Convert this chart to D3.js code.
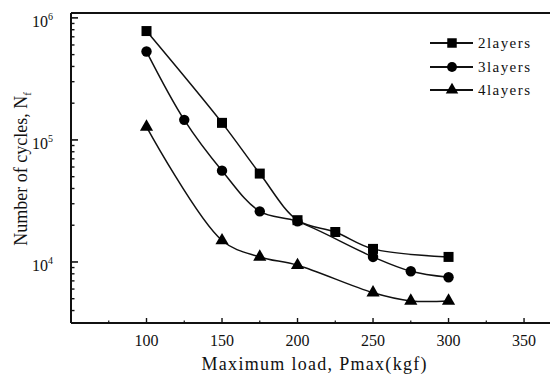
<!DOCTYPE html>
<html lang="en">
<head>
  <meta charset="UTF-8">
  <title>Number of cycles vs maximum load</title>
  <script src="https://d3js.org/d3.v7.min.js"></script>
  <style>
    body { margin: 0; background: #fff; }
    text { font-family: "Liberation Serif", "Times New Roman", serif; fill: #111; }
  </style>
</head>
<body>
  <svg id="chart" width="550" height="375"></svg>

  <script>
    // data
    const loads2 = [100, 150, 175, 200, 225, 250, 300];
    const cycles2 = [780000, 138000, 53000, 22000, 17600, 12800, 11000];

    const loads3 = [100, 125, 150, 175, 200, 250, 275, 300];
    const cycles3 = [530000, 146000, 56000, 26000, 21500, 11000, 8400, 7500];

    const loads4 = [100, 150, 175, 200, 250, 275, 300];
    const cycles4 = [128000, 15000, 11000, 9400, 5600, 4800, 4800];

    const seriesNames = ["2layers", "3layers", "4layers"];
    const xTicks = [100, 150, 200, 250, 300, 350];
    const yTickExps = [4, 5, 6];

    const svg = d3.select("#chart");
    const plotLeft = 71, plotTop = 13, plotBottom = 323;

    const x = d3.scaleLinear().domain([50, 375]).range([plotLeft, 561.8]);
    const y = d3.scaleLog().domain([Math.pow(10, 3.5), Math.pow(10, 6.04)]).range([plotBottom, plotTop]);

    const series = [
      { name: seriesNames[0], shape: d3.symbolSquare, size: 100, pts: loads2.map((l, i) => [l, cycles2[i]]) },
      { name: seriesNames[1], shape: d3.symbolCircle, size: 85, pts: loads3.map((l, i) => [l, cycles3[i]]) },
      { name: seriesNames[2], shape: d3.symbolTriangle, size: 75, pts: loads4.map((l, i) => [l, cycles4[i]]) }
    ];

    // frame: left and bottom axis lines, top border
    svg.append("line").attr("x1", plotLeft).attr("x2", 550).attr("y1", plotBottom).attr("y2", plotBottom)
      .attr("stroke", "#111").attr("stroke-width", 2);
    svg.append("line").attr("x1", plotLeft).attr("x2", 550).attr("y1", plotTop).attr("y2", plotTop)
      .attr("stroke", "#111").attr("stroke-width", 2);
    svg.append("line").attr("x1", plotLeft).attr("x2", plotLeft).attr("y1", plotTop).attr("y2", plotBottom)
      .attr("stroke", "#111").attr("stroke-width", 2);

    // x ticks (pointing inward)
    const xMinor = d3.range(75, 376, 25).filter(v => !xTicks.includes(v));
    svg.selectAll(".xmin").data(xMinor).join("line")
      .attr("x1", d => x(d)).attr("x2", d => x(d))
      .attr("y1", plotBottom).attr("y2", plotBottom - 2.5)
      .attr("stroke", "#111").attr("stroke-width", 1.2);
    svg.selectAll(".xmaj").data(xTicks).join("line")
      .attr("x1", d => x(d)).attr("x2", d => x(d))
      .attr("y1", plotBottom).attr("y2", plotBottom - 5)
      .attr("stroke", "#111").attr("stroke-width", 1.4);
    svg.selectAll(".xlab").data(xTicks).join("text")
      .attr("x", d => x(d)).attr("y", 346)
      .attr("text-anchor", "middle").attr("font-size", 16)
      .text(d => d);

    // y ticks
    const yMinor = [];
    [3, 4, 5].forEach(e => {
      for (let m = 2; m <= 9; m++) {
        const v = m * Math.pow(10, e);
        if (v > y.domain()[0] && v < y.domain()[1]) yMinor.push(v);
      }
    });
    svg.selectAll(".ymin").data(yMinor).join("line")
      .attr("x1", plotLeft).attr("x2", plotLeft + 3.5)
      .attr("y1", d => y(d)).attr("y2", d => y(d))
      .attr("stroke", "#111").attr("stroke-width", 1.4);
    svg.selectAll(".ymaj").data(yTickExps).join("line")
      .attr("x1", plotLeft).attr("x2", plotLeft + 7)
      .attr("y1", d => y(Math.pow(10, d))).attr("y2", d => y(Math.pow(10, d)))
      .attr("stroke", "#111").attr("stroke-width", 1.6);
    const ylab = svg.selectAll(".ylab").data(yTickExps).join("text")
      .attr("x", 53).attr("y", d => y(Math.pow(10, d)) + 9)
      .attr("text-anchor", "end").attr("font-size", 16);
    ylab.append("tspan").text("10");
    ylab.append("tspan").attr("dy", -7).attr("font-size", 10).text(d => d);

    // series lines
    const line = d3.line()
      .x(d => x(d[0])).y(d => y(d[1]))
      .curve(d3.curveCatmullRom.alpha(0.5));

    series.forEach(s => {
      svg.append("path").datum(s.pts)
        .attr("d", line)
        .attr("fill", "none").attr("stroke", "#111").attr("stroke-width", 1.5);
      svg.selectAll(null).data(s.pts).join("path")
        .attr("transform", d => `translate(${x(d[0])},${y(d[1])})`)
        .attr("d", d3.symbol(s.shape, s.size))
        .attr("fill", "#000");
    });

    // legend
    const legY = [43, 67, 90];
    series.forEach((s, i) => {
      svg.append("line").attr("x1", 430).attr("x2", 473)
        .attr("y1", legY[i]).attr("y2", legY[i])
        .attr("stroke", "#111").attr("stroke-width", 1.8);
      svg.append("path")
        .attr("transform", `translate(452,${legY[i]})`)
        .attr("d", d3.symbol(s.shape, s.size * 0.9))
        .attr("fill", "#000");
      svg.append("text").attr("x", 478).attr("y", legY[i] + 5)
        .attr("font-size", 15).attr("textLength", 52).attr("lengthAdjust", "spacing")
        .text(s.name);
    });

    // axis titles
    svg.append("text").attr("x", 314).attr("y", 370)
      .attr("text-anchor", "middle").attr("font-size", 18)
      .attr("textLength", 225).attr("lengthAdjust", "spacing")
      .text("Maximum load, Pmax(kgf)");

    const yt = svg.append("text")
      .attr("transform", "translate(27,169) rotate(-90)")
      .attr("text-anchor", "middle").attr("font-size", 18);
    yt.append("tspan").text("Number of cycles, N");
    yt.append("tspan").attr("dy", 4).attr("font-size", 11).text("f");
  </script>
</body>
</html>
